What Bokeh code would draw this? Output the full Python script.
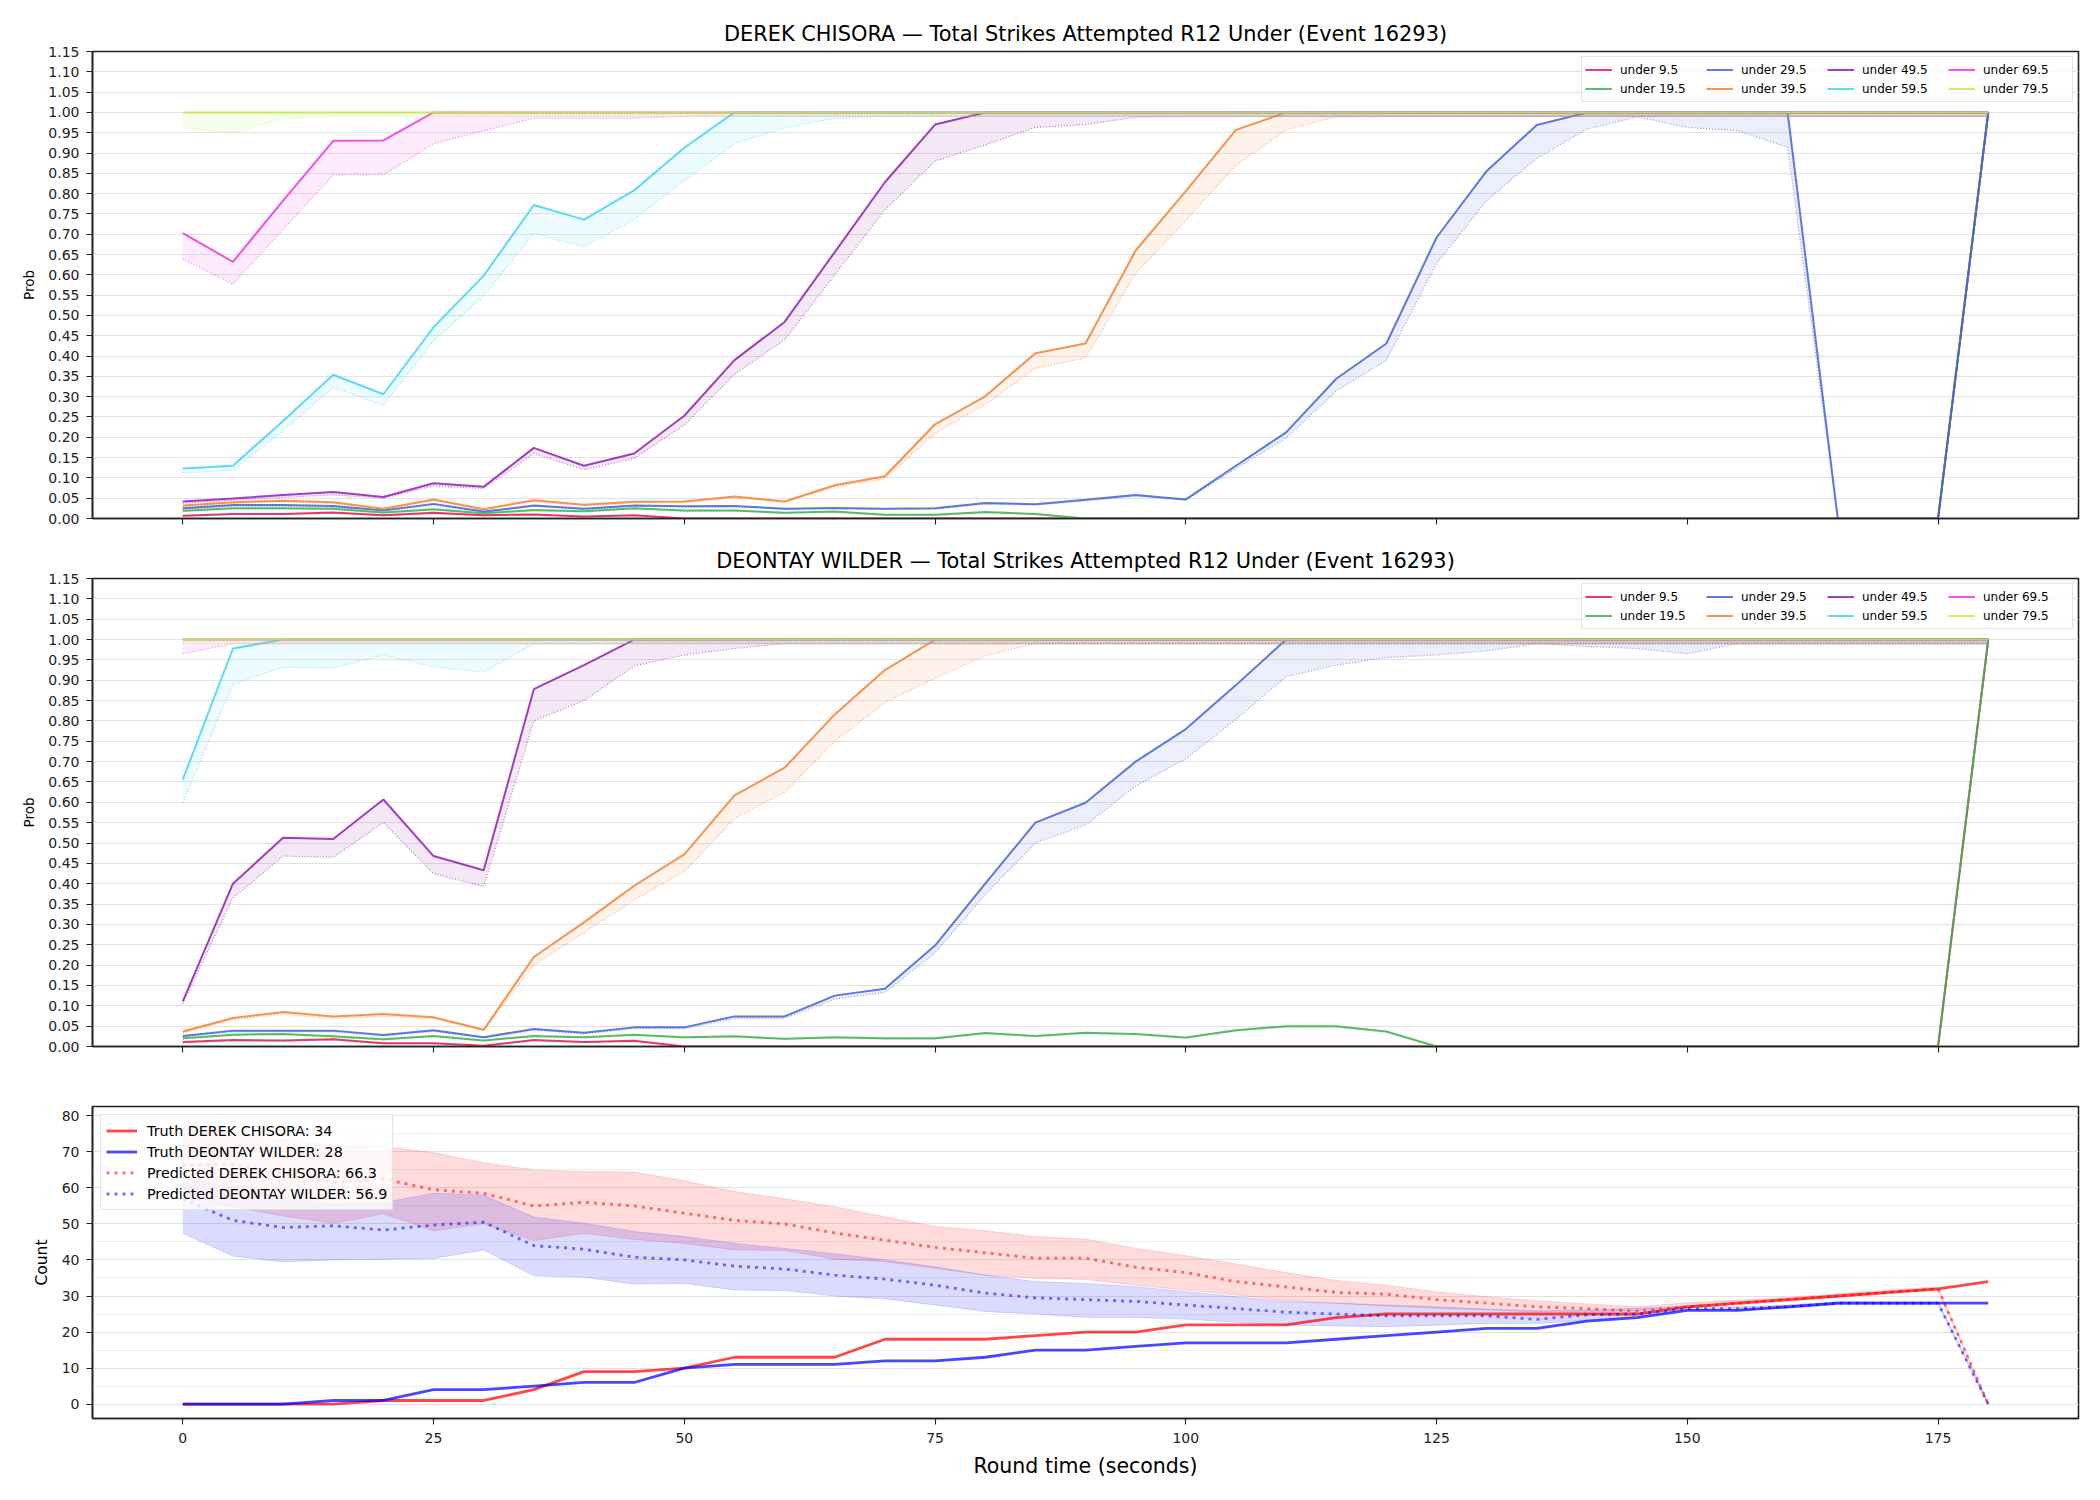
from bokeh.plotting import figure
from bokeh.models import (Range1d, FixedTicker, SingleIntervalTicker, PrintfTickFormatter,
                          Legend, LegendItem)
from bokeh.layouts import column
from bokeh.embed import file_html
from bokeh.resources import INLINE

FONT = "DejaVu Sans"

# Round time in seconds (snapshots every 5 s)
T = [0, 5, 10, 15, 20, 25, 30, 35, 40, 45, 50, 55, 60, 65, 70, 75, 80, 85, 90,
     95, 100, 105, 110, 115, 120, 125, 130, 135, 140, 145, 150, 155, 160, 165,
     170, 175, 180]
X_TICKS = [0, 25, 50, 75, 100, 125, 150, 175]
PROB_TICKS = [0.0, 0.05, 0.1, 0.15, 0.2, 0.25, 0.3, 0.35, 0.4, 0.45, 0.5, 0.55, 0.6,
              0.65, 0.7, 0.75, 0.8, 0.85, 0.9, 0.95, 1.0, 1.05, 1.1, 1.15]

LINES = ["under 9.5", "under 19.5", "under 29.5", "under 39.5",
         "under 49.5", "under 59.5", "under 69.5", "under 79.5"]
LINE_COLORS = ["#e6194b", "#3cb44b", "#4363d8", "#f58231",
               "#911eb4", "#42d4f4", "#f032e6", "#bfef45"]

# ---- DEREK CHISORA: market probability (solid) and model probability (dotted)
chisora_u9 = [0.007, 0.011, 0.011, 0.015, 0.008, 0.014, 0.008, 0.010, 0.005, 0.008,
              0, 0, 0, 0, 0, 0, 0, 0, 0, 0, 0, 0, 0, 0, 0, 0, 0, 0, 0, 0, 0, 0, 0,
              0, 0, 0, 1.0]
chisora_u9_fair = [0.006, 0.010, 0.010, 0.013, 0.007, 0.012, 0.007, 0.009, 0.004, 0.007,
                   0, 0, 0, 0, 0, 0, 0, 0, 0, 0, 0, 0, 0, 0, 0, 0, 0, 0, 0, 0, 0, 0, 0,
                   0, 0, 0, 0.99]
chisora_u19 = [0.019, 0.025, 0.025, 0.024, 0.015, 0.023, 0.013, 0.021, 0.018, 0.025,
               0.020, 0.020, 0.014, 0.017, 0.009, 0.009, 0.016, 0.011, 0, 0, 0, 0, 0,
               0, 0, 0, 0, 0, 0, 0, 0, 0, 0, 0, 0, 0, 1.0]
chisora_u19_fair = [0.017, 0.023, 0.023, 0.022, 0.013, 0.021, 0.011, 0.019, 0.016, 0.023,
                    0.018, 0.018, 0.013, 0.015, 0.008, 0.008, 0.014, 0.010, 0, 0, 0, 0,
                    0, 0, 0, 0, 0, 0, 0, 0, 0, 0, 0, 0, 0, 0, 0.99]
chisora_u29 = [0.025, 0.033, 0.033, 0.031, 0.020, 0.036, 0.017, 0.032, 0.024, 0.032,
               0.030, 0.031, 0.024, 0.026, 0.024, 0.025, 0.038, 0.035, 0.046, 0.058,
               0.047, 0.130, 0.212, 0.344, 0.431, 0.692, 0.856, 0.969, 1.0, 1.0, 1.0,
               1.0, 1.0, 0, 0, 0, 1.0]
chisora_u29_fair = [0.023, 0.030, 0.030, 0.028, 0.018, 0.033, 0.015, 0.030, 0.022, 0.030,
                    0.028, 0.029, 0.022, 0.024, 0.022, 0.023, 0.035, 0.033, 0.043, 0.055,
                    0.045, 0.123, 0.198, 0.314, 0.390, 0.628, 0.783, 0.887, 0.959, 0.989,
                    0.963, 0.955, 0.914, 0, 0, 0, 0.99]
chisora_u39 = [0.032, 0.040, 0.044, 0.040, 0.024, 0.047, 0.023, 0.045, 0.034, 0.041,
               0.042, 0.054, 0.042, 0.082, 0.104, 0.232, 0.301, 0.407, 0.431, 0.660,
               0.806, 0.957, 1.0, 1.0, 1.0, 1.0, 1.0, 1.0, 1.0, 1.0, 1.0, 1.0, 1.0, 1.0,
               1.0, 1.0, 1.0]
chisora_u39_fair = [0.029, 0.037, 0.041, 0.037, 0.022, 0.044, 0.021, 0.042, 0.031, 0.038,
                    0.039, 0.050, 0.040, 0.077, 0.098, 0.210, 0.280, 0.370, 0.395, 0.603,
                    0.734, 0.870, 0.957, 0.989, 0.99, 0.99, 0.99, 0.99, 0.99, 0.99, 0.99,
                    0.99, 0.99, 0.99, 0.99, 0.99, 0.99]
chisora_u49 = [0.042, 0.049, 0.058, 0.065, 0.053, 0.087, 0.078, 0.174, 0.130, 0.160,
               0.253, 0.390, 0.484, 0.656, 0.828, 0.970, 1.0, 1.0, 1.0, 1.0, 1.0, 1.0,
               1.0, 1.0, 1.0, 1.0, 1.0, 1.0, 1.0, 1.0, 1.0, 1.0, 1.0, 1.0, 1.0, 1.0, 1.0]
chisora_u49_fair = [0.038, 0.045, 0.052, 0.058, 0.050, 0.080, 0.074, 0.160, 0.120, 0.148,
                    0.230, 0.355, 0.440, 0.600, 0.760, 0.880, 0.920, 0.963, 0.970, 0.988,
                    0.99, 0.99, 0.99, 0.99, 0.99, 0.99, 0.99, 0.99, 0.99, 0.99, 0.99, 0.99,
                    0.99, 0.99, 0.99, 0.99, 0.99]
chisora_u59 = [0.123, 0.130, 0.240, 0.354, 0.306, 0.471, 0.598, 0.772, 0.736, 0.808,
               0.913, 1.0, 1.0, 1.0, 1.0, 1.0, 1.0, 1.0, 1.0, 1.0, 1.0, 1.0, 1.0, 1.0,
               1.0, 1.0, 1.0, 1.0, 1.0, 1.0, 1.0, 1.0, 1.0, 1.0, 1.0, 1.0, 1.0]
chisora_u59_fair = [0.112, 0.119, 0.216, 0.323, 0.278, 0.438, 0.548, 0.702, 0.669, 0.737,
                    0.833, 0.923, 0.962, 0.985, 0.99, 0.99, 0.99, 0.99, 0.99, 0.99, 0.99,
                    0.99, 0.99, 0.99, 0.99, 0.99, 0.99, 0.99, 0.99, 0.99, 0.99, 0.99, 0.99,
                    0.99, 0.99, 0.99, 0.99]
chisora_u69 = [0.703, 0.632, 0.783, 0.930, 0.931, 1.0, 1.0, 1.0, 1.0, 1.0, 1.0, 1.0,
               1.0, 1.0, 1.0, 1.0, 1.0, 1.0, 1.0, 1.0, 1.0, 1.0, 1.0, 1.0, 1.0, 1.0,
               1.0, 1.0, 1.0, 1.0, 1.0, 1.0, 1.0, 1.0, 1.0, 1.0, 1.0]
chisora_u69_fair = [0.639, 0.577, 0.712, 0.846, 0.846, 0.923, 0.955, 0.986, 0.986, 0.986,
                    0.99, 0.99, 0.99, 0.99, 0.99, 0.99, 0.99, 0.99, 0.99, 0.99, 0.99, 0.99,
                    0.99, 0.99, 0.99, 0.99, 0.99, 0.99, 0.99, 0.99, 0.99, 0.99, 0.99, 0.99,
                    0.99, 0.99, 0.99]
chisora_u79 = [1.0, 1.0, 1.0, 1.0, 1.0, 1.0, 1.0, 1.0, 1.0, 1.0, 1.0, 1.0, 1.0, 1.0,
               1.0, 1.0, 1.0, 1.0, 1.0, 1.0, 1.0, 1.0, 1.0, 1.0, 1.0, 1.0, 1.0, 1.0,
               1.0, 1.0, 1.0, 1.0, 1.0, 1.0, 1.0, 1.0, 1.0]
chisora_u79_fair = [0.963, 0.949, 0.986, 0.99, 0.99, 0.99, 0.99, 0.99, 0.99, 0.99, 0.99,
                    0.99, 0.99, 0.99, 0.99, 0.99, 0.99, 0.99, 0.99, 0.99, 0.99, 0.99, 0.99,
                    0.99, 0.99, 0.99, 0.99, 0.99, 0.99, 0.99, 0.99, 0.99, 0.99, 0.99, 0.99,
                    0.99, 0.99]

# ---- DEONTAY WILDER
wilder_u9 = [0.011, 0.016, 0.015, 0.018, 0.008, 0.008, 0.002, 0.016, 0.011, 0.014,
             0, 0, 0, 0, 0, 0, 0, 0, 0, 0, 0, 0, 0, 0, 0, 0, 0, 0, 0, 0, 0, 0, 0, 0,
             0, 0, 1.0]
wilder_u9_fair = [0.009, 0.014, 0.013, 0.016, 0.007, 0.007, 0.002, 0.014, 0.010, 0.012,
                  0, 0, 0, 0, 0, 0, 0, 0, 0, 0, 0, 0, 0, 0, 0, 0, 0, 0, 0, 0, 0, 0, 0,
                  0, 0, 0, 0.99]
wilder_u19 = [0.020, 0.029, 0.031, 0.025, 0.018, 0.026, 0.015, 0.026, 0.023, 0.029,
              0.023, 0.025, 0.019, 0.023, 0.020, 0.020, 0.033, 0.026, 0.034, 0.031,
              0.022, 0.040, 0.050, 0.050, 0.037, 0, 0, 0, 0, 0, 0, 0, 0, 0, 0, 0, 1.0]
wilder_u19_fair = [0.018, 0.027, 0.029, 0.023, 0.016, 0.024, 0.014, 0.024, 0.021, 0.027,
                   0.021, 0.023, 0.017, 0.021, 0.018, 0.018, 0.031, 0.024, 0.032, 0.029,
                   0.020, 0.038, 0.048, 0.048, 0.035, 0, 0, 0, 0, 0, 0, 0, 0, 0, 0, 0,
                   0.99]
wilder_u29 = [0.026, 0.039, 0.039, 0.039, 0.028, 0.040, 0.023, 0.043, 0.034, 0.047,
              0.047, 0.074, 0.074, 0.125, 0.142, 0.248, 0.400, 0.550, 0.599, 0.700,
              0.780, 0.888, 1.0, 1.0, 1.0, 1.0, 1.0, 1.0, 1.0, 1.0, 1.0, 1.0, 1.0, 1.0,
              1.0, 1.0, 1.0]
wilder_u29_fair = [0.024, 0.036, 0.036, 0.036, 0.026, 0.037, 0.021, 0.040, 0.031, 0.044,
                   0.044, 0.069, 0.069, 0.117, 0.133, 0.230, 0.373, 0.500, 0.544, 0.640,
                   0.707, 0.804, 0.909, 0.937, 0.956, 0.962, 0.972, 0.99, 0.983, 0.978,
                   0.965, 0.99, 0.99, 0.99, 0.99, 0.99, 0.99]
wilder_u39 = [0.037, 0.070, 0.085, 0.074, 0.080, 0.072, 0.041, 0.220, 0.305, 0.395,
              0.472, 0.617, 0.685, 0.816, 0.925, 1.0, 1.0, 1.0, 1.0, 1.0, 1.0, 1.0,
              1.0, 1.0, 1.0, 1.0, 1.0, 1.0, 1.0, 1.0, 1.0, 1.0, 1.0, 1.0, 1.0, 1.0, 1.0]
wilder_u39_fair = [0.033, 0.065, 0.080, 0.068, 0.075, 0.068, 0.039, 0.200, 0.280, 0.360,
                   0.430, 0.560, 0.625, 0.750, 0.845, 0.905, 0.960, 0.99, 0.99, 0.99,
                   0.99, 0.99, 0.99, 0.99, 0.99, 0.99, 0.99, 0.99, 0.99, 0.99, 0.99, 0.99,
                   0.99, 0.99, 0.99, 0.99, 0.99]
wilder_u49 = [0.111, 0.400, 0.513, 0.510, 0.607, 0.468, 0.433, 0.878, 0.937, 1.0, 1.0,
              1.0, 1.0, 1.0, 1.0, 1.0, 1.0, 1.0, 1.0, 1.0, 1.0, 1.0, 1.0, 1.0, 1.0, 1.0,
              1.0, 1.0, 1.0, 1.0, 1.0, 1.0, 1.0, 1.0, 1.0, 1.0, 1.0]
wilder_u49_fair = [0.105, 0.365, 0.468, 0.465, 0.550, 0.425, 0.393, 0.800, 0.850, 0.935,
                   0.962, 0.978, 0.99, 0.99, 0.99, 0.99, 0.99, 0.99, 0.99, 0.99, 0.99,
                   0.99, 0.99, 0.99, 0.99, 0.99, 0.99, 0.99, 0.99, 0.99, 0.99, 0.99, 0.99,
                   0.99, 0.99, 0.99, 0.99]
wilder_u59 = [0.656, 0.978, 1.0, 1.0, 1.0, 1.0, 1.0, 1.0, 1.0, 1.0, 1.0, 1.0, 1.0, 1.0,
              1.0, 1.0, 1.0, 1.0, 1.0, 1.0, 1.0, 1.0, 1.0, 1.0, 1.0, 1.0, 1.0, 1.0, 1.0,
              1.0, 1.0, 1.0, 1.0, 1.0, 1.0, 1.0, 1.0]
wilder_u59_fair = [0.599, 0.890, 0.932, 0.930, 0.962, 0.933, 0.920, 0.99, 0.99, 0.99,
                   0.99, 0.99, 0.99, 0.99, 0.99, 0.99, 0.99, 0.99, 0.99, 0.99, 0.99, 0.99,
                   0.99, 0.99, 0.99, 0.99, 0.99, 0.99, 0.99, 0.99, 0.99, 0.99, 0.99, 0.99,
                   0.99, 0.99, 0.99]
wilder_u69 = [1.0, 1.0, 1.0, 1.0, 1.0, 1.0, 1.0, 1.0, 1.0, 1.0, 1.0, 1.0, 1.0, 1.0,
              1.0, 1.0, 1.0, 1.0, 1.0, 1.0, 1.0, 1.0, 1.0, 1.0, 1.0, 1.0, 1.0, 1.0,
              1.0, 1.0, 1.0, 1.0, 1.0, 1.0, 1.0, 1.0, 1.0]
wilder_u69_fair = [0.965, 0.99, 0.99, 0.99, 0.99, 0.99, 0.99, 0.99, 0.99, 0.99, 0.99,
                   0.99, 0.99, 0.99, 0.99, 0.99, 0.99, 0.99, 0.99, 0.99, 0.99, 0.99, 0.99,
                   0.99, 0.99, 0.99, 0.99, 0.99, 0.99, 0.99, 0.99, 0.99, 0.99, 0.99, 0.99,
                   0.99, 0.99]
wilder_u79 = [1.0, 1.0, 1.0, 1.0, 1.0, 1.0, 1.0, 1.0, 1.0, 1.0, 1.0, 1.0, 1.0, 1.0,
              1.0, 1.0, 1.0, 1.0, 1.0, 1.0, 1.0, 1.0, 1.0, 1.0, 1.0, 1.0, 1.0, 1.0,
              1.0, 1.0, 1.0, 1.0, 1.0, 1.0, 1.0, 1.0, 1.0]
wilder_u79_fair = [0.99, 0.99, 0.99, 0.99, 0.99, 0.99, 0.99, 0.99, 0.99, 0.99, 0.99,
                   0.99, 0.99, 0.99, 0.99, 0.99, 0.99, 0.99, 0.99, 0.99, 0.99, 0.99, 0.99,
                   0.99, 0.99, 0.99, 0.99, 0.99, 0.99, 0.99, 0.99, 0.99, 0.99, 0.99, 0.99,
                   0.99, 0.99]

# ---- Strike counts: running truth, predicted final total and its band
truth_chisora = [0, 0, 0, 0, 1, 1, 1, 4, 9, 9, 10, 13, 13, 13, 18, 18, 18, 19, 20, 20,
                 22, 22, 22, 24, 25, 25, 25, 25, 25, 25, 27, 28, 29, 30, 31, 32, 34]
truth_wilder = [0, 0, 0, 1, 1, 4, 4, 5, 6, 6, 10, 11, 11, 11, 12, 12, 13, 15, 15, 16,
                17, 17, 17, 18, 19, 20, 21, 21, 23, 24, 26, 26, 27, 28, 28, 28, 28]
pred_chisora = [66.3, 66.5, 63.9, 61.5, 62.5, 59.5, 58.5, 55.0, 56.0, 55.0, 53.0, 51.0,
                50.0, 47.5, 45.5, 43.5, 42.0, 40.5, 40.5, 38.0, 36.5, 34.0, 32.5, 31.0,
                30.5, 29.0, 28.0, 27.0, 26.5, 25.8, 27.0, 28.0, 29.0, 30.0, 31.0, 32.0, 0.0]
pred_wilder = [56.9, 51.0, 49.0, 49.5, 48.3, 49.7, 50.5, 44.0, 43.0, 40.8, 40.0, 38.3,
               37.5, 35.8, 34.7, 33.0, 30.8, 29.5, 29.0, 28.5, 27.5, 26.5, 25.5, 25.0,
               24.5, 24.5, 24.5, 23.5, 24.8, 25.0, 26.5, 26.5, 27.0, 28.0, 28.0, 28.0, 0.0]
chisora_hi = [76.6, 75.2, 73.5, 72.0, 71.5, 69.8, 67.0, 65.0, 64.5, 64.4, 62.0, 59.0,
              57.0, 54.8, 52.0, 49.3, 48.1, 46.5, 45.8, 43.2, 41.2, 38.9, 36.5, 34.3,
              33.0, 31.2, 29.8, 28.7, 27.8, 27.0, 28.1, 28.8, 29.6, 30.6, 31.6, 32.6, 0.0]
chisora_lo = [57.0, 54.8, 52.2, 50.2, 52.8, 48.1, 50.0, 45.4, 47.4, 45.7, 44.6, 42.8,
              42.6, 40.2, 39.5, 37.7, 35.8, 34.9, 34.6, 33.0, 31.7, 30.3, 28.7, 28.0,
              27.2, 26.6, 26.1, 25.6, 25.6, 25.9, 27.0, 27.6, 28.6, 29.6, 30.6, 31.6, 0.0]
wilder_hi = [62.8, 60.0, 57.5, 55.5, 55.9, 58.5, 58.0, 51.9, 50.2, 47.9, 46.5, 44.6,
             43.2, 41.7, 40.0, 38.1, 35.8, 34.0, 33.5, 32.6, 31.2, 29.8, 28.4, 28.0,
             27.5, 27.0, 26.4, 25.9, 26.1, 26.6, 27.2, 27.0, 27.5, 28.4, 28.4, 28.4, 0.0]
wilder_lo = [47.4, 41.1, 39.5, 40.0, 40.2, 40.4, 42.8, 35.6, 35.2, 33.3, 33.5, 31.7,
             31.5, 30.0, 29.2, 27.5, 25.7, 25.0, 24.1, 24.0, 23.6, 22.7, 21.9, 21.7,
             21.5, 21.9, 22.4, 22.4, 23.3, 24.3, 26.3, 26.1, 26.6, 27.6, 27.6, 27.6, 0.0]

CHISORA_MARKET = [chisora_u9, chisora_u19, chisora_u29, chisora_u39,
                  chisora_u49, chisora_u59, chisora_u69, chisora_u79]
CHISORA_FAIR = [chisora_u9_fair, chisora_u19_fair, chisora_u29_fair, chisora_u39_fair,
                chisora_u49_fair, chisora_u59_fair, chisora_u69_fair, chisora_u79_fair]
WILDER_MARKET = [wilder_u9, wilder_u19, wilder_u29, wilder_u39,
                 wilder_u49, wilder_u59, wilder_u69, wilder_u79]
WILDER_FAIR = [wilder_u9_fair, wilder_u19_fair, wilder_u29_fair, wilder_u39_fair,
               wilder_u49_fair, wilder_u59_fair, wilder_u69_fair, wilder_u79_fair]

INK = "#222222"
GRID = "#e2e2e2"
W = 2100
LEFT, RIGHT = 92, 22


def base_axes(p, show_x_labels):
    p.background_fill_color = "white"
    p.border_fill_color = "white"
    p.outline_line_color = INK
    p.outline_line_width = 1.6
    p.xgrid.grid_line_color = None
    p.ygrid.grid_line_color = GRID
    p.ygrid.grid_line_width = 1
    p.xaxis.ticker = FixedTicker(ticks=X_TICKS)
    for ax in (p.xaxis[0], p.yaxis[0]):
        ax.axis_line_color = INK
        ax.axis_line_width = 1.6
        ax.major_tick_line_color = INK
        ax.major_tick_line_width = 1.1
        ax.major_tick_out = 6
        ax.major_tick_in = 0
        ax.minor_tick_line_color = None
        ax.major_label_text_font = FONT
        ax.major_label_text_font_size = "14px"
        ax.major_label_text_color = INK
        ax.axis_label_text_font = FONT
        ax.axis_label_text_font_style = "normal"
        ax.axis_label_text_color = "black"
    p.yaxis.major_label_standoff = 7
    p.yaxis.axis_label_standoff = 8
    if show_x_labels:
        p.xaxis.major_label_standoff = 8
    else:
        p.xaxis.major_label_overrides = {t: "" for t in X_TICKS}
        p.xaxis.major_label_text_font_size = "1px"
        p.xaxis.major_label_standoff = 0
    p.title.text_font = FONT
    p.title.text_font_size = "20.9px"
    p.title.text_font_style = "normal"
    p.title.text_color = "black"
    p.title.align = "center"
    p.title.standoff = 12


def prob_panel(title, market, fair, height, top, bottom, x_range):
    p = figure(width=W, height=height, x_range=x_range, y_range=Range1d(0, 1.15),
               output_backend="svg", toolbar_location=None, title=title,
               min_border_left=LEFT, min_border_right=RIGHT,
               min_border_top=top, min_border_bottom=bottom)
    base_axes(p, False)
    p.yaxis.ticker = FixedTicker(ticks=PROB_TICKS)
    p.yaxis.formatter = PrintfTickFormatter(format="%.2f")
    p.yaxis.axis_label = "Prob"
    p.yaxis.axis_label_text_font_size = "13.5px"
    items = []
    for name, color, mk, fr in zip(LINES, LINE_COLORS, market, fair):
        solid = p.line(T, mk, line_color=color, line_width=2, line_alpha=0.85)
        p.line(T, fr, line_color=color, line_width=1.2, line_alpha=0.6, line_dash="1 2")
        p.varea(x=T, y1=fr, y2=mk, fill_color=color, fill_alpha=0.1)
        items.append(LegendItem(label=name, renderers=[solid]))
    leg = Legend(items=items, location="top_right", orientation="vertical", nrows=2,
                 label_text_font=FONT, label_text_font_size="12px",
                 label_text_color="black",
                 glyph_width=27, glyph_height=19, label_height=19, label_width=86,
                 label_standoff=8, spacing=0, padding=3, margin=5,
                 border_line_color="#cccccc", border_line_width=1,
                 background_fill_color="white", background_fill_alpha=0.8)
    p.add_layout(leg)
    return p


xr = Range1d(-9, 189)
p1 = prob_panel("DEREK CHISORA \u2014 Total Strikes Attempted R12 Under (Event 16293)",
                CHISORA_MARKET, CHISORA_FAIR, 540, 51, 22, xr)
p2 = prob_panel("DEONTAY WILDER \u2014 Total Strikes Attempted R12 Under (Event 16293)",
                WILDER_MARKET, WILDER_FAIR, 528, 38, 22, xr)

# ---- bottom panel: counts
p3 = figure(width=W, height=432, x_range=xr, y_range=Range1d(-4.0, 82.6),
            output_backend="svg", toolbar_location=None,
            min_border_left=LEFT, min_border_right=RIGHT,
            min_border_top=38, min_border_bottom=82)
base_axes(p3, True)
p3.yaxis.ticker = SingleIntervalTicker(interval=10, num_minor_ticks=2)
p3.ygrid.minor_grid_line_color = "#efefef"
p3.yaxis.axis_label = "Count"
p3.yaxis.axis_label_text_font_size = "15.5px"
p3.xaxis.axis_label = "Round time (seconds)"
p3.xaxis.axis_label_text_font_size = "20.5px"
p3.xaxis.axis_label_standoff = 8

for lo, hi, col in ((chisora_lo, chisora_hi, "red"), (wilder_lo, wilder_hi, "blue")):
    p3.varea(x=T, y1=lo, y2=hi, fill_color=col, fill_alpha=0.14)
    p3.line(T, lo, line_color=col, line_alpha=0.14, line_width=1)
    p3.line(T, hi, line_color=col, line_alpha=0.14, line_width=1)

r_tc = p3.line(T, truth_chisora, line_color="red", line_alpha=0.72, line_width=2.8)
r_tw = p3.line(T, truth_wilder, line_color="blue", line_alpha=0.72, line_width=2.8)
r_pc = p3.line(T, pred_chisora, line_color="red", line_alpha=0.55, line_width=2.8,
               line_dash="3 5")
r_pw = p3.line(T, pred_wilder, line_color="blue", line_alpha=0.55, line_width=2.8,
               line_dash="3 5")

leg3 = Legend(items=[
    LegendItem(label="Truth DEREK CHISORA: 34", renderers=[r_tc]),
    LegendItem(label="Truth DEONTAY WILDER: 28", renderers=[r_tw]),
    LegendItem(label="Predicted DEREK CHISORA: 66.3", renderers=[r_pc]),
    LegendItem(label="Predicted DEONTAY WILDER: 56.9", renderers=[r_pw]),
], location="top_left", label_text_font=FONT, label_text_font_size="14.3px",
    label_text_color="black",
    glyph_width=31, glyph_height=21, label_height=21, label_standoff=10, spacing=0,
    padding=5, margin=8, border_line_color="#cccccc", border_line_width=1,
    background_fill_color="white", background_fill_alpha=0.8)
p3.add_layout(leg3)

layout = column(p1, p2, p3, spacing=0)
open("out.html", "w").write(file_html(layout, INLINE))
